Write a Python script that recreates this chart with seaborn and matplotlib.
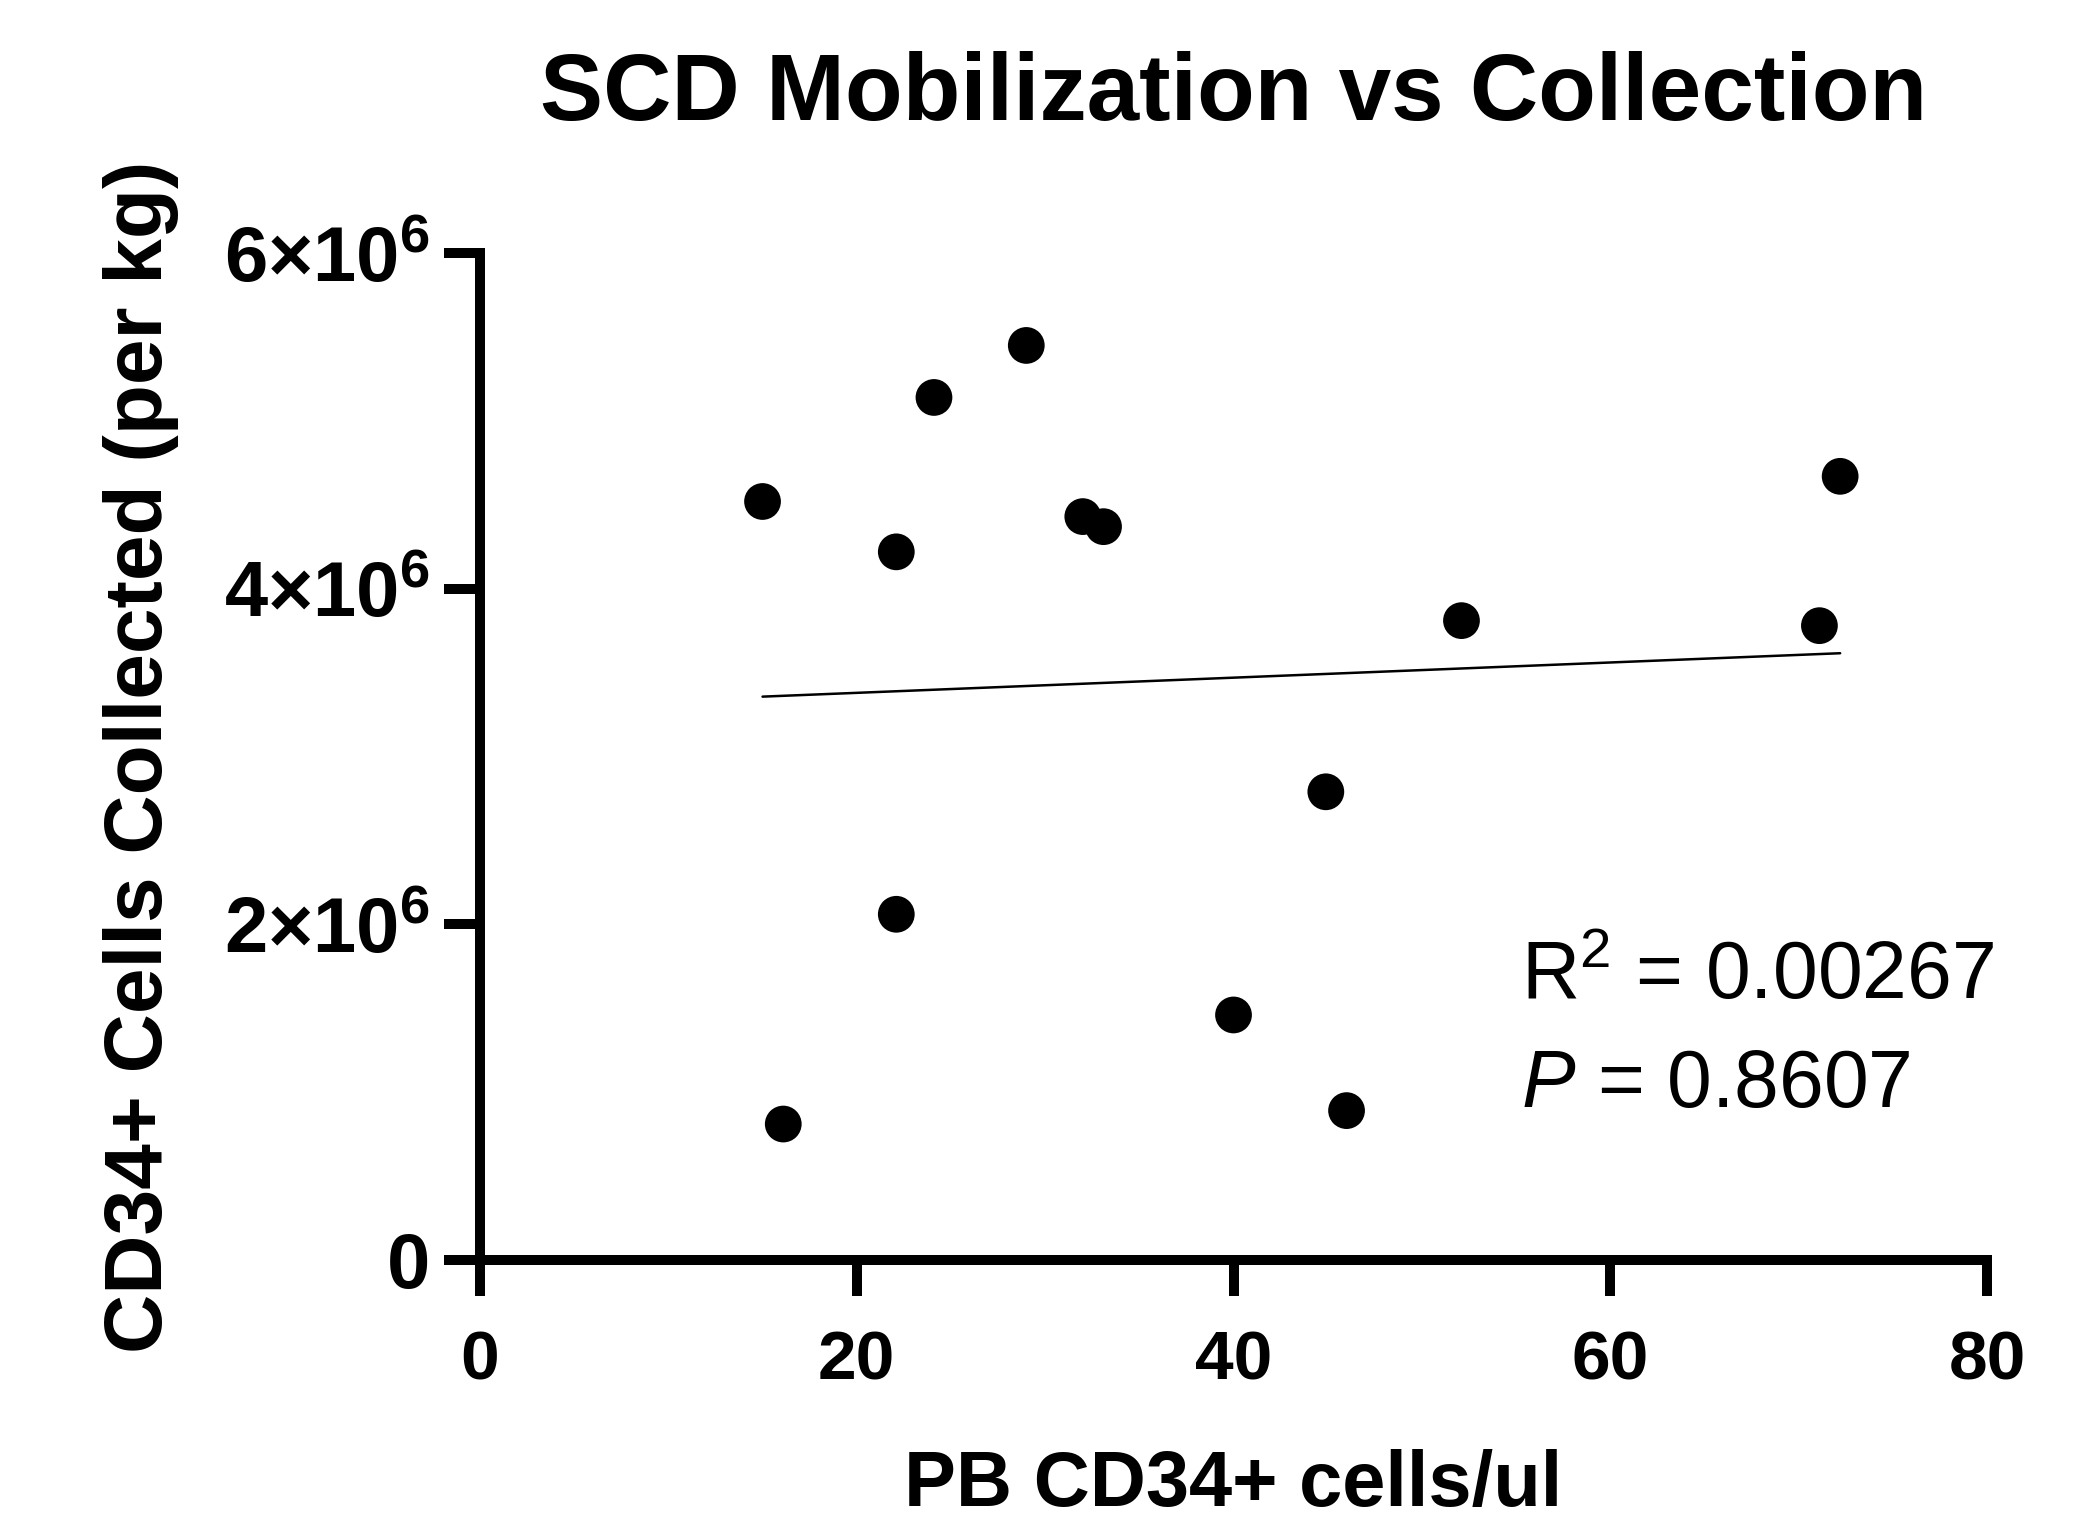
import matplotlib
matplotlib.use("Agg")
import matplotlib.pyplot as plt
import seaborn as sns
import pandas as pd

# values
pb_cd34 = [15.0, 16.1, 22.1, 22.1, 24.1, 29.0, 32.0, 33.1, 40.0, 44.9, 46.0, 52.1, 71.1, 72.2]
cd34_collected = [4.52e6, 0.81e6, 4.22e6, 2.06e6, 5.14e6, 5.45e6, 4.43e6, 4.37e6,
                  1.46e6, 2.79e6, 0.89e6, 3.81e6, 3.78e6, 4.67e6]
x_ticks = [0, 20, 40, 60, 80]
y_ticks = [0, 2e6, 4e6, 6e6]
y_tick_labels = ["0", r"2×10$^{\mathbf{6}}$", r"4×10$^{\mathbf{6}}$", r"6×10$^{\mathbf{6}}$"]
r_squared = "0.00267"
p_value = "0.8607"

df = pd.DataFrame({"pb": pb_cd34, "collected": cd34_collected})

sns.set_theme(style="ticks")
plt.rcParams["font.family"] = ["Liberation Sans", "DejaVu Sans"]
plt.rcParams["mathtext.fontset"] = "custom"
plt.rcParams["mathtext.rm"] = "Liberation Sans"
plt.rcParams["mathtext.it"] = "Liberation Sans:italic"
plt.rcParams["mathtext.bf"] = "Liberation Sans:bold"
for key in ["text.color", "axes.labelcolor", "xtick.color", "ytick.color", "axes.edgecolor"]:
    plt.rcParams[key] = "black"

fig = plt.figure(figsize=(10.42, 7.625), dpi=200)
ax = fig.add_axes([0.2303, 0.1738, 0.7232, 0.6602])

sns.regplot(data=df, x="pb", y="collected", ci=None, ax=ax,
            scatter_kws={"s": 175, "color": "black", "edgecolor": "none", "alpha": 1},
            line_kws={"color": "black", "lw": 0.9})

ax.set_xlim(0, 80)
ax.set_ylim(0, 6e6)
ax.set_xticks(x_ticks)
ax.set_xticklabels([str(t) for t in x_ticks], fontweight="bold", fontsize=25)
ax.set_yticks(y_ticks)
ax.set_yticklabels(y_tick_labels, fontweight="bold", fontsize=28)

for side in ["top", "right"]:
    ax.spines[side].set_visible(False)
for side in ["left", "bottom"]:
    ax.spines[side].set_linewidth(3.6)
ax.tick_params(axis="both", direction="out", length=13, width=3.6)
ax.tick_params(axis="x", pad=12)
ax.tick_params(axis="y", pad=5)

ax.set_title("SCD Mobilization vs Collection", fontsize=34, fontweight="bold", pad=48)
ax.set_xlabel("PB CD34+ cells/ul", fontsize=28, fontweight="bold", labelpad=20)
ax.set_ylabel("CD34+ Cells Collected (per kg)", fontsize=29.5, fontweight="bold", labelpad=16)

ax.text(0.691, 0.26, r"R$^{2}$ = " + r_squared, transform=ax.transAxes, fontsize=29)
ax.text(0.691, 0.152, r"$\mathit{P}$ = " + p_value, transform=ax.transAxes, fontsize=29)

fig.savefig("out.png", dpi=200, facecolor="white")
